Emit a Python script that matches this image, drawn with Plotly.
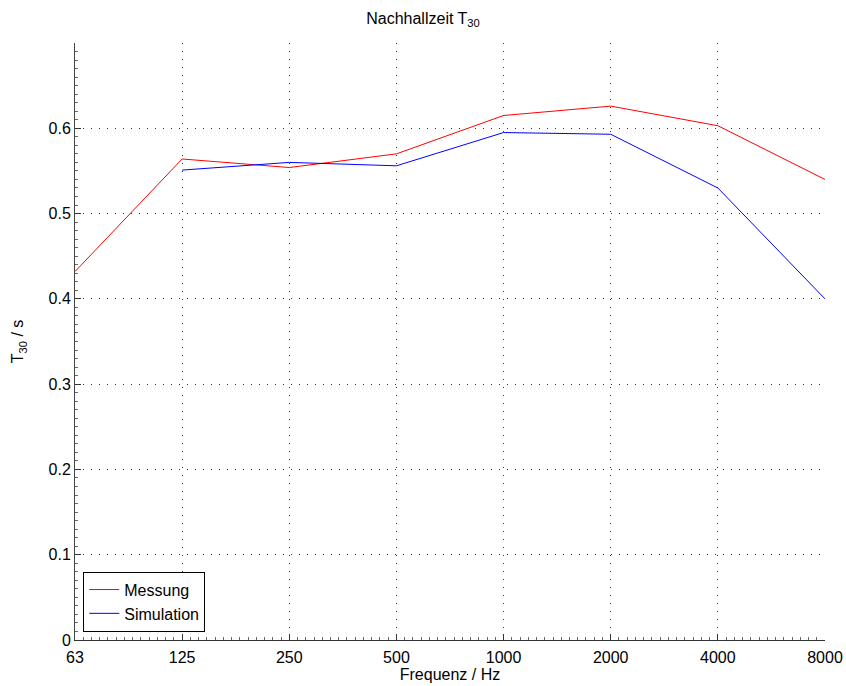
import numpy as np
import plotly.graph_objects as go

# Octave band centre frequencies (exact octave values, Hz) and their nominal labels
freqs = [62.5, 125, 250, 500, 1000, 2000, 4000, 8000]
freq_labels = ["63", "125", "250", "500", "1000", "2000", "4000", "8000"]

# Reverberation time T30 in seconds
t30_messung = [0.432, 0.564, 0.554, 0.570, 0.615, 0.626, 0.603, 0.540]
t30_sim_freqs = [125, 250, 500, 1000, 2000, 4000, 8000]
t30_simulation = [0.551, 0.560, 0.556, 0.595, 0.593, 0.530, 0.400]

y_ticks = [0, 0.1, 0.2, 0.3, 0.4, 0.5, 0.6]
y_tick_labels = ["0", "0.1", "0.2", "0.3", "0.4", "0.5", "0.6"]

font = "Liberation Sans, Arial, Helvetica, sans-serif"
fs = 16

fig = go.Figure()
fig.add_trace(go.Scatter(x=freqs, y=t30_messung, mode="lines", name="Messung",
                         line=dict(color="#ff0000", width=1)))
fig.add_trace(go.Scatter(x=t30_sim_freqs, y=t30_simulation, mode="lines", name="Simulation",
                         line=dict(color="#0000ff", width=1)))

# evenly spaced minor ticks inside each octave
minor_x = [f * 2 ** (k / 13) for f in freqs[:-1] for k in range(1, 13)]
minor_y = [round(v, 3) for v in np.arange(0, 0.701, 0.01)]

grid_dash = "1px,7px"

fig.update_layout(
    width=846, height=686,
    margin=dict(l=75, r=21, t=43, b=46),
    paper_bgcolor="white", plot_bgcolor="white",
    font=dict(family=font, size=fs, color="black"),
    title=dict(text="Nachhallzeit T<sub>30</sub>", x=0.5, xanchor="center",
               y=1 - 18 / 686, yanchor="middle", font=dict(size=fs)),
    showlegend=True,
    legend=dict(x=0.011, y=0.014, xanchor="left", yanchor="bottom",
                bgcolor="white", bordercolor="black", borderwidth=1,
                font=dict(size=fs), tracegroupgap=0, entrywidth=110),
)
fig.update_xaxes(
    type="log", range=[np.log10(62.5), np.log10(8000)],
    tickmode="array", tickvals=freqs, ticktext=freq_labels,
    showline=True, linecolor="#333", linewidth=1, mirror=False,
    ticks="inside", ticklen=6, tickcolor="#333", ticklabelstandoff=3,
    showgrid=True, gridcolor="#333", griddash=grid_dash, gridwidth=1,
    minor=dict(tickmode="array", tickvals=minor_x, ticks="inside", ticklen=3,
               tickcolor="#666", showgrid=False),
    zeroline=False, automargin=False,
    title=dict(text="Frequenz / Hz", standoff=0, font=dict(size=fs)),
)
fig.update_yaxes(
    range=[0, 0.7],
    tickmode="array", tickvals=y_ticks, ticktext=y_tick_labels,
    showline=True, linecolor="#444", linewidth=1, mirror=False,
    ticks="inside", ticklen=6, tickcolor="#333",
    showgrid=True, gridcolor="#333", griddash=grid_dash, gridwidth=1,
    minor=dict(tickmode="array", tickvals=minor_y, ticks="inside", ticklen=3,
               tickcolor="#666", showgrid=False),
    zeroline=False, automargin=False,
    title=dict(text="T<sub>30</sub> / s", standoff=20, font=dict(size=fs)),
)

fig.write_html("out.html")
